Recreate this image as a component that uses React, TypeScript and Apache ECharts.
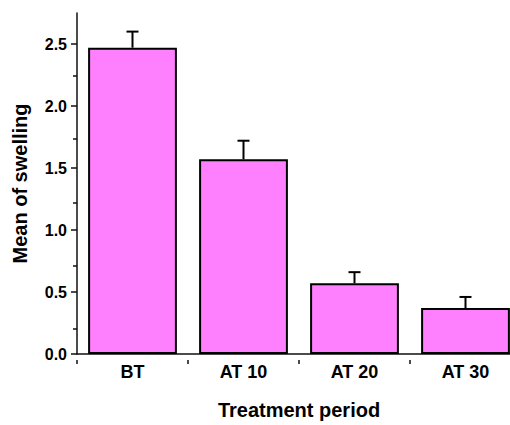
import React, { useEffect, useRef } from "react";
import * as echarts from "echarts";

const categories = ["BT", "AT 10", "AT 20", "AT 30"];
const means = [2.47, 1.57, 0.57, 0.37];
const errors = [0.13, 0.15, 0.09, 0.09];
const majorTicks = [0, 0.5, 1.0, 1.5, 2.0, 2.5];
const minorTicks = [0.25, 0.75, 1.25, 1.75, 2.25];

const FONT = "'Liberation Sans', Arial, sans-serif";

export default function App() {
  const ref = useRef<HTMLDivElement>(null);
  useEffect(() => {
    if (!ref.current) return;
    const chart = echarts.init(ref.current, null, { renderer: "svg" });
    const axisColor = "#111";
    const gridBox = { left: 77, right: 0, top: 13, bottom: 65 };
    chart.setOption({
      animation: false,
      backgroundColor: "#fff",
      grid: [gridBox, { ...gridBox }],
      xAxis: [
        {
          type: "category",
          gridIndex: 0,
          data: categories,
          name: "Treatment period",
          nameLocation: "middle",
          nameGap: 46,
          nameTextStyle: { fontFamily: FONT, fontWeight: "bold", fontSize: 20, color: "#000" },
          axisLine: { lineStyle: { color: axisColor, width: 1.5 } },
          axisTick: { alignWithLabel: true, length: 7, lineStyle: { color: axisColor, width: 1.5 } },
          axisLabel: { fontFamily: FONT, fontWeight: "bold", fontSize: 18, color: "#000", margin: 9 },
          splitLine: { show: false },
        },
        {
          type: "category",
          gridIndex: 1,
          data: categories,
          position: "bottom",
          axisLine: { show: false },
          axisTick: { show: true, length: 4, lineStyle: { color: axisColor, width: 1.5 } },
          axisLabel: { show: false },
          splitLine: { show: false },
        },
      ],
      yAxis: [
        {
          type: "value",
          gridIndex: 0,
          min: 0,
          max: 2.75,
          name: "Mean of swelling",
          nameLocation: "middle",
          nameGap: 47,
          nameTextStyle: { fontFamily: FONT, fontWeight: "bold", fontSize: 20, color: "#000" },
          axisLine: { show: true, lineStyle: { color: axisColor, width: 1.5 } },
          axisTick: { show: true, length: 6, customValues: majorTicks, lineStyle: { color: axisColor, width: 1.5 } },
          axisLabel: {
            fontFamily: FONT,
            fontWeight: "bold",
            fontSize: 16,
            color: "#000",
            margin: 10,
            customValues: majorTicks,
            formatter: (v: number) => v.toFixed(1),
          },
          splitLine: { show: false },
        },
        {
          type: "value",
          gridIndex: 1,
          min: 0,
          max: 2.75,
          position: "left",
          axisLine: { show: false },
          axisTick: { show: true, length: 4, customValues: minorTicks, lineStyle: { color: axisColor, width: 1.5 } },
          axisLabel: { show: false },
          splitLine: { show: false },
        },
      ],
      series: [
        {
          type: "bar",
          xAxisIndex: 0,
          yAxisIndex: 0,
          data: means,
          barWidth: "80%",
          itemStyle: { color: "#FF80FF", borderColor: "#000", borderWidth: 2 },
          z: 2,
        },
        {
          type: "custom",
          xAxisIndex: 0,
          yAxisIndex: 0,
          data: means.map((m, i) => [i, m, m + errors[i]]),
          z: 3,
          renderItem: (params: any, api: any) => {
            const x = api.value(0);
            const low = api.coord([x, api.value(1)]);
            const high = api.coord([x, api.value(2)]);
            const half = 6;
            const style = { stroke: "#000", lineWidth: 2 };
            return {
              type: "group",
              children: [
                { type: "line", shape: { x1: low[0], y1: low[1], x2: high[0], y2: high[1] }, style },
                { type: "line", shape: { x1: high[0] - half, y1: high[1], x2: high[0] + half, y2: high[1] }, style },
              ],
            };
          },
        },
      ],
    });
    return () => chart.dispose();
  }, []);
  return (
    <div
      style={{ position: "fixed", left: 0, top: 0, width: 510, height: 425, overflow: "hidden", background: "#fff" }}
    >
      <div ref={ref} style={{ width: 521, height: 425 }} />
    </div>
  );
}
